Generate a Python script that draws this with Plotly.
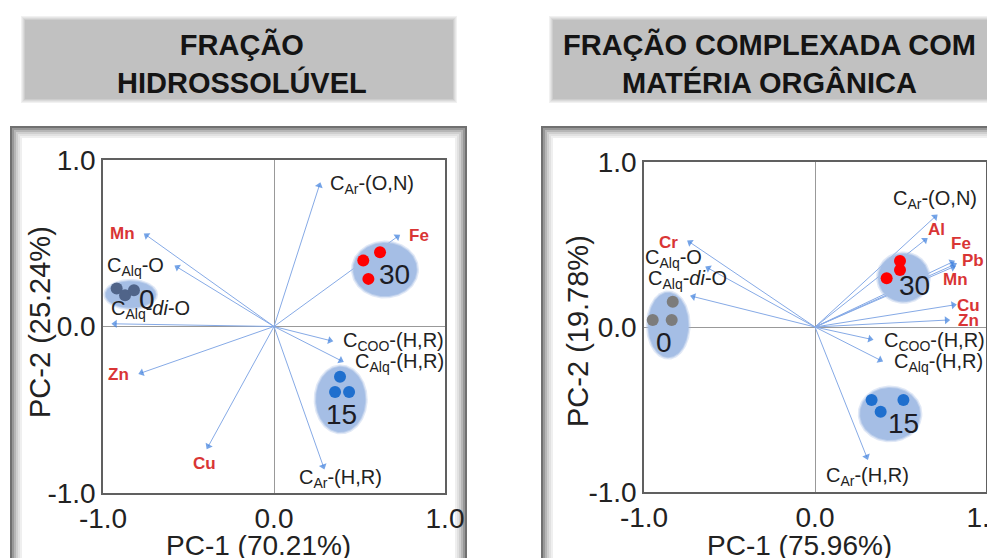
import numpy as np
import plotly.graph_objects as go

W, H = 987, 558

# ---------------- data ----------------
tick_vals = [-1.0, 0.0, 1.0]
tick_text = ["-1.0", "0.0", "1.0"]

# Water-soluble fraction (PC-1 70.21 %, PC-2 25.24 %)
hs_var_names = ["C<sub>Ar</sub>-(O,N)", "Fe", "Mn", "C<sub>Alq</sub>-O", "C<sub>Alq</sub>-<i>di</i>-O",
                "Zn", "Cu", "C<sub>Ar</sub>-(H,R)", "C<sub>COO</sub>-(H,R)", "C<sub>Alq</sub>-(H,R)"]
hs_var_metal = [False, True, True, False, False, True, True, False, False, False]
hs_var_x = [0.265, 0.721, -0.745, -0.565, -0.930, -0.774, -0.384, 0.288, 0.327, 0.390]
hs_var_y = [0.847, 0.539, 0.547, 0.356, 0.016, -0.278, -0.719, -0.839, -0.084, -0.204]

hs_groups = ["0", "15", "30"]
hs_score_x = [[-0.920, -0.871, -0.819], [0.386, 0.357, 0.439], [0.522, 0.620, 0.552]]
hs_score_y = [[0.228, 0.188, 0.218], [-0.302, -0.394, -0.394], [0.396, 0.446, 0.286]]

# Fraction complexed with organic matter (PC-1 75.96 %, PC-2 19.78 %)
om_var_names = ["C<sub>Ar</sub>-(O,N)", "Al", "Fe", "Pb", "Mn", "Cu", "Zn",
                "C<sub>COO</sub>-(H,R)", "C<sub>Alq</sub>-(H,R)", "C<sub>Ar</sub>-(H,R)",
                "Cr", "C<sub>Alq</sub>-O", "C<sub>Alq</sub>-<i>di</i>-O"]
om_var_metal = [False, True, True, True, True, True, True, False, False, False, True, False, False]
om_var_x = [0.702, 0.643, 0.800, 0.812, 0.805, 0.809, 0.770, 0.322, 0.380, 0.302, -0.731, -0.624, -0.711]
om_var_y = [0.668, 0.527, 0.392, 0.377, 0.362, 0.133, 0.042, -0.073, -0.200, -0.786, 0.513, 0.356, 0.184]

om_groups = ["0", "15", "30"]
om_score_x = [[-0.949, -0.832, -0.838], [0.331, 0.384, 0.517], [0.419, 0.497, 0.497]]
om_score_y = [[0.042, 0.153, 0.042], [-0.442, -0.513, -0.442], [0.295, 0.400, 0.345]]

# ---------------- layout helpers ----------------
FONT = "Liberation Sans, Arial, sans-serif"
LINE_C = "#86aae6"
HEAD_C = "#3b7ddd"
ELL_C = "#a5bee5"
METAL_C = "#d93535"
TEXT_C = "#222222"


def fx(p):
    return p / W


def fy(p):
    return 1 - p / H


panels = [
    dict(xa="x", ya="y", xdom=(103, 445), ydom=(160, 493),
         names=hs_var_names, metal=hs_var_metal, vx=hs_var_x, vy=hs_var_y,
         groups=hs_groups, sx=hs_score_x, sy=hs_score_y,
         colors={"0": "#506489", "15": "#1f6fce", "30": "#ff0000"},
         # label anchor (x, y) for each variable
         lab=[(0.575, 0.853), (0.850, 0.547), (-0.887, 0.557), (-0.809, 0.362), (-0.72, 0.102),
              (-0.910, -0.288), (-0.404, -0.825), (0.391, -0.913), (0.698, -0.088), (0.732, -0.218)],
         # ellipse centre / radii and group-label position
         ell={"0": (-0.838, 0.192, 0.146, 0.080), "15": (0.390, -0.438, 0.144, 0.196),
              "30": (0.649, 0.342, 0.185, 0.160)},
         glab={"0": (-0.741, 0.160), "15": (0.396, -0.529), "30": (0.702, 0.312)},
         xtitle="PC-1 (70.21%)", ytitle="PC-2 (25.24%)",
         xt_pos=(258, 545), yt_pos=(40, 322),
         title="FRAÇÃO<br>HIDROSSOLÚVEL", title_pos=(242, 63),
         tbox=(25, 20, 453, 99), frame=(11, 127, 466, 570)),
    dict(xa="x2", ya="y2", xdom=(644, 986), ydom=(162, 492),
         names=om_var_names, metal=om_var_metal, vx=om_var_x, vy=om_var_y,
         groups=om_groups, sx=om_score_x, sy=om_score_y,
         colors={"0": "#7c7c7c", "15": "#1f6fce", "30": "#ff0000"},
         lab=[(0.702, 0.770), (0.712, 0.588), (0.852, 0.507), (0.926, 0.406), (0.819, 0.285),
              (0.897, 0.133), (0.897, 0.042), (0.696, -0.089), (0.725, -0.214), (0.306, -0.907),
              (-0.858, 0.513), (-0.828, 0.416), (-0.747, 0.285)],
         ell={"0": (-0.858, 0.012, 0.117, 0.196), "15": (0.439, -0.527, 0.175, 0.158),
              "30": (0.517, 0.299, 0.146, 0.145)},
         glab={"0": (-0.883, -0.093), "15": (0.517, -0.584), "30": (0.579, 0.250)},
         xtitle="PC-1 (75.96%)", ytitle="PC-2 (19.78%)",
         xt_pos=(799, 545), yt_pos=(578, 331),
         title="FRAÇÃO COMPLEXADA COM<br>MATÉRIA ORGÂNICA", title_pos=(769, 63),
         tbox=(553, 20, 1000, 99), frame=(542, 127, 1000, 570)),
]

fig = go.Figure()
shapes = []
annotations = []

t = np.linspace(0, 2 * np.pi, 140)


def paper_text(x, y, text, size, color, bold=False, angle=0):
    return dict(x=fx(x), y=fy(y), xref="paper", yref="paper", xanchor="center", yanchor="middle",
                text="<b>%s</b>" % text if bold else text, textangle=angle, showarrow=False,
                font=dict(family=FONT, size=size, color=color))


def data_text(x, y, xa, ya, text, size, color):
    return dict(x=x, y=y, xref=xa, yref=ya, xanchor="center", yanchor="middle", text=text,
                showarrow=False, font=dict(family=FONT, size=size, color=color))


for p in panels:
    xa, ya = p["xa"], p["ya"]

    # loading vectors
    for vx, vy in zip(p["vx"], p["vy"]):
        fig.add_trace(go.Scatter(
            x=[0, vx], y=[0, vy], xaxis=xa, yaxis=ya, mode="lines+markers",
            line=dict(color=LINE_C, width=1),
            marker=dict(size=[0, 7], symbol="triangle-up", angleref="previous", color=HEAD_C,
                        line=dict(width=0)),
            hoverinfo="skip", showlegend=False))

    # group ellipses (soft halo + body)
    for g in p["groups"]:
        cx, cy, rx, ry = p["ell"][g]
        for grow, col in ((0.014, "rgba(165,190,229,0.35)"), (0.006, "rgba(165,190,229,0.6)"), (0.0, ELL_C)):
            fig.add_trace(go.Scatter(
                x=cx + (rx + grow) * np.cos(t), y=cy + (ry + grow) * np.sin(t),
                xaxis=xa, yaxis=ya, mode="lines", fill="toself", fillcolor=col,
                line=dict(width=0), hoverinfo="skip", showlegend=False))

    # sample scores
    for g, sx, sy in zip(p["groups"], p["sx"], p["sy"]):
        fig.add_trace(go.Scatter(
            x=sx, y=sy, xaxis=xa, yaxis=ya, mode="markers",
            marker=dict(size=12, color=p["colors"][g], line=dict(width=0)),
            hoverinfo="skip", showlegend=False))
        gx, gy = p["glab"][g]
        annotations.append(data_text(gx, gy, xa, ya, g, 28, "#1c1c24"))

    # variable labels
    for name, metal, (lx, ly) in zip(p["names"], p["metal"], p["lab"]):
        if metal:
            annotations.append(data_text(lx, ly, xa, ya, "<b>%s</b>" % name, 17, METAL_C))
        else:
            annotations.append(data_text(lx, ly, xa, ya, name, 20, TEXT_C))

    # axis titles
    annotations.append(paper_text(*p["xt_pos"], p["xtitle"], 28, TEXT_C))
    annotations.append(paper_text(*p["yt_pos"], p["ytitle"], 29, TEXT_C, angle=-90))

    # panel title on a grey box
    annotations.append(paper_text(*p["title_pos"], p["title"], 29, "#141414", bold=True))
    bx0, by0, bx1, by1 = p["tbox"]
    for grow, col in ((4, "#f1f1f1"), (3, "#e6e6e6"), (2, "#dadada"), (1, "#cdcdcd"), (0, "#c1c1c1")):
        shapes.append(dict(type="rect", xref="paper", yref="paper", layer="below",
                           x0=fx(bx0 - grow), x1=fx(bx1 + grow), y0=fy(by0 - grow), y1=fy(by1 + grow),
                           fillcolor=col, line=dict(width=0)))

    # panel frame with inner shadow
    fx0, fy0, fx1, fy1 = p["frame"]
    for inset, col, w in ((0, "#707070", 2), (2, "#989898", 2), (4, "#b6b6b6", 2), (6, "#cfcfcf", 2),
                          (8, "#e1e1e1", 2), (10, "#efefef", 2)):
        shapes.append(dict(type="rect", xref="paper", yref="paper", layer="below",
                           x0=fx(fx0 + inset), x1=fx(fx1 - inset), y0=fy(fy0 + inset), y1=fy(fy1 - inset),
                           fillcolor="rgba(0,0,0,0)", line=dict(color=col, width=w)))

axis_common = dict(range=[-1, 1], tickvals=tick_vals, ticktext=tick_text, showgrid=False,
                   zeroline=True, zerolinecolor="#999999", zerolinewidth=1.2,
                   showline=True, mirror=True, linecolor="#606060", linewidth=1.5,
                   ticks="", fixedrange=True, automargin=False, ticklabeloverflow="allow",
                   tickfont=dict(family=FONT, size=28, color=TEXT_C))

p0, p1 = panels
fig.update_layout(
    width=W, height=H, margin=dict(l=0, r=0, t=0, b=0, pad=0, autoexpand=False),
    paper_bgcolor="rgba(0,0,0,0)", plot_bgcolor="rgba(0,0,0,0)", showlegend=False,
    xaxis=dict(domain=[fx(p0["xdom"][0]), fx(p0["xdom"][1])], anchor="y", **axis_common),
    yaxis=dict(domain=[fy(p0["ydom"][1]), fy(p0["ydom"][0])], anchor="x", **axis_common),
    xaxis2=dict(domain=[fx(p1["xdom"][0]), fx(p1["xdom"][1])], anchor="y2", **axis_common),
    yaxis2=dict(domain=[fy(p1["ydom"][1]), fy(p1["ydom"][0])], anchor="x2", **axis_common),
    shapes=shapes, annotations=annotations,
)

fig.write_html("out.html")
